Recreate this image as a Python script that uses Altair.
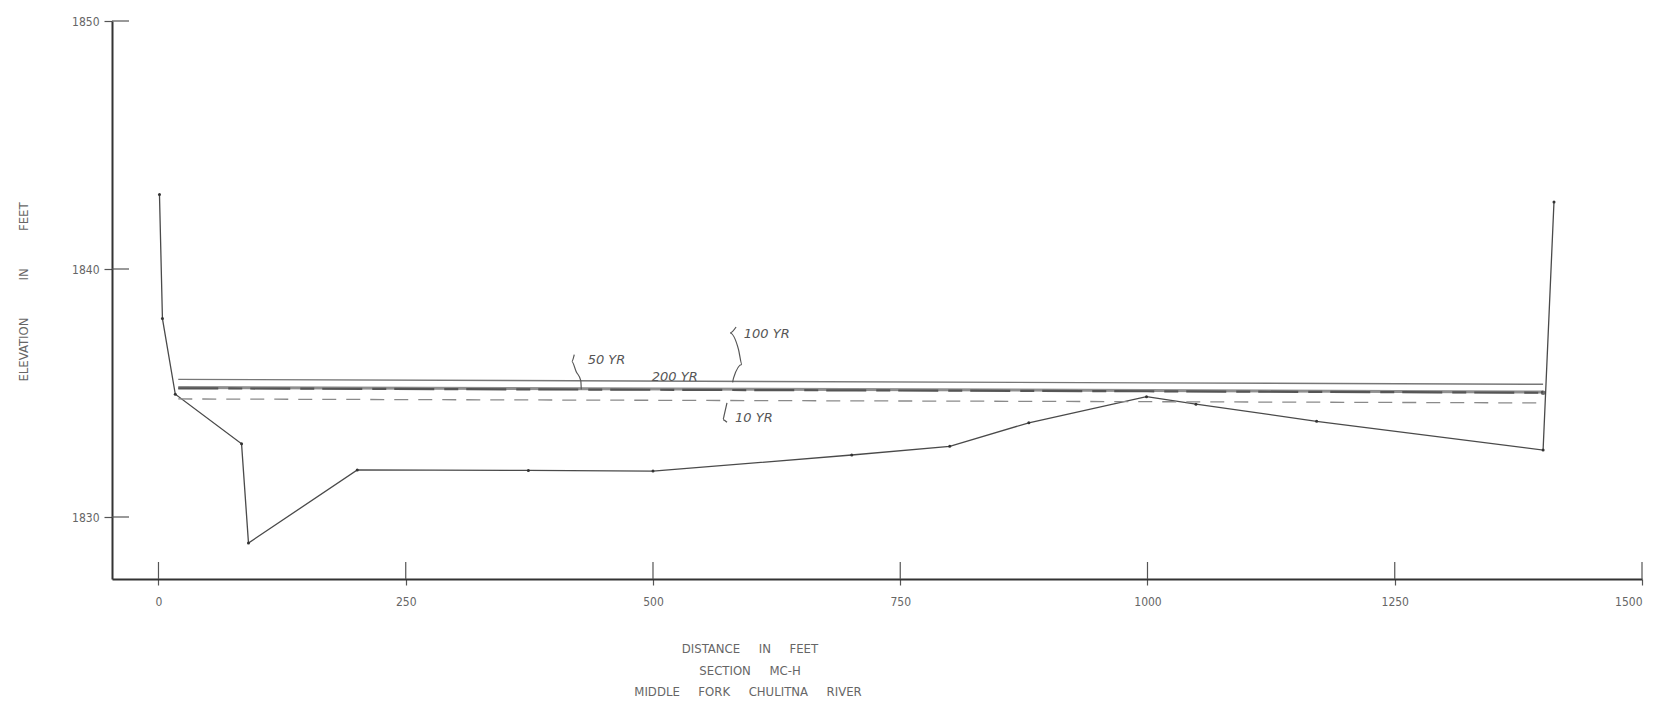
import altair as alt
import pandas as pd

# ---- data ----
ground_x = [1, 4, 17, 84, 91, 201, 374, 500, 701, 800, 880, 999, 1049, 1171, 1400, 1411]
ground_elev = [1843.0, 1838.0, 1834.95, 1832.95, 1828.95, 1831.9, 1831.88, 1831.85,
               1832.5, 1832.85, 1833.8, 1834.85, 1834.55, 1833.86, 1832.7, 1842.7]

ws_x = [20, 1000, 1400]
ws_100 = [1835.55, 1835.41, 1835.35]
ws_200 = [1835.22, 1835.10, 1835.04]
ws_50 = [1835.19, 1835.07, 1835.01]
ws_10 = [1834.76, 1834.65, 1834.60]

x_ticks = [0, 250, 500, 750, 1000, 1250, 1500]
y_ticks = [1830, 1840, 1850]

label_text = ["50 YR", "200 YR", "100 YR", "10 YR"]
label_x = [453, 522, 615, 602]
label_elev = [1836.35, 1835.66, 1837.36, 1834.0]

lead50_x = [420.4, 417.9, 422.4, 427.0, 427.5]
lead50_e = [1836.55, 1836.27, 1835.86, 1835.50, 1835.14]
lead100_x = [584.0, 577.9, 586.5, 589.9, 581.5, 580.5]
lead100_e = [1837.66, 1837.42, 1836.75, 1836.15, 1835.61, 1835.43]
lead10_x = [574.8, 572.1, 570.8, 574.8]
lead10_e = [1834.6, 1834.13, 1833.93, 1833.82]

GAP = "\u00a0\u00a0\u00a0\u00a0\u00a0"
caption_lines = ["DISTANCE" + GAP + "IN" + GAP + "FEET",
                 "SECTION" + GAP + "MC-H",
                 "MIDDLE" + GAP + "FORK" + GAP + "CHULITNA" + GAP + "RIVER"]
y_title = "ELEVATION" + GAP + GAP + "IN" + GAP + GAP + "FEET"

FONT = "DejaVu Sans Condensed"
W, H = 1530, 558

xs = alt.Scale(domain=[-47, 1500], nice=False, zero=False)
ys = alt.Scale(domain=[1827.5, 1850], nice=False, zero=False)

x_axis = alt.Axis(values=x_ticks, title=None, grid=False, tickSize=6, labelPadding=11,
                  labelFontSize=12, labelFont=FONT, labelColor="#666", domainColor="#333",
                  domainWidth=2, tickColor="#555", tickWidth=1.2, format="d")
y_axis = alt.Axis(values=y_ticks, title=None, grid=False, tickSize=8, labelPadding=5,
                  labelFontSize=12, labelFont=FONT, labelColor="#666", domainColor="#333",
                  domainWidth=2, tickColor="#555", tickWidth=1.2, format="d")


def X(field):
    return alt.X(field, type="quantitative", scale=xs, axis=x_axis)


def Y(field):
    return alt.Y(field, type="quantitative", scale=ys, axis=y_axis)


ground = pd.DataFrame({"x": ground_x, "e": ground_elev})
ground_layer = alt.Chart(ground).mark_line(
    color="#4a4a4a", strokeWidth=1.3,
    point=alt.OverlayMarkDef(size=9, filled=True, color="#333")
).encode(x=X("x"), y=Y("e"))


def ws_layer(vals, **kw):
    df = pd.DataFrame({"x": ws_x, "e": vals})
    return alt.Chart(df).mark_line(**kw).encode(x=X("x"), y=Y("e"))


l100 = ws_layer(ws_100, color="#777", strokeWidth=1.4)
l200 = ws_layer(ws_200, color="#8f8f8f", strokeWidth=3)
l50 = ws_layer(ws_50, color="#555", strokeWidth=2.2, strokeDash=[40, 10, 14, 8])
l10 = ws_layer(ws_10, color="#8a8a8a", strokeWidth=1.3, strokeDash=[14, 10])

ends = pd.DataFrame({"x": [ws_x[-1]], "e": [ws_50[-1]]})
end_dot = alt.Chart(ends).mark_point(filled=True, size=22, color="#333").encode(x=X("x"), y=Y("e"))


def leader(xv, ev):
    df = pd.DataFrame({"x": xv, "e": ev, "i": list(range(len(xv)))})
    return alt.Chart(df).mark_line(color="#555", strokeWidth=1.2, interpolate="monotone").encode(
        x=X("x"), y=Y("e"), order=alt.Order("i:Q"))


labels = pd.DataFrame({"t": label_text, "x": label_x, "e": label_elev})
label_layer = alt.Chart(labels).mark_text(
    font="DejaVu Sans", fontStyle="italic", fontSize=13, color="#555"
).encode(x=X("x"), y=Y("e"), text="t:N")

tick_x_df = pd.DataFrame({"x": x_ticks})
inner_x = alt.Chart(tick_x_df).mark_rule(color="#555", strokeWidth=1.2).encode(
    x=X("x"), y=alt.value(H - 17), y2=alt.value(H))
tick_y_df = pd.DataFrame({"e": y_ticks})
inner_y = alt.Chart(tick_y_df).mark_rule(color="#555", strokeWidth=1.2).encode(
    y=Y("e"), x=alt.value(0), x2=alt.value(17))


def text_at(txt, px, py, angle=0, size=13):
    df = pd.DataFrame({"t": [txt]})
    return alt.Chart(df).mark_text(font=FONT, fontSize=size, color="#666", angle=angle).encode(
        x=alt.value(px), y=alt.value(py), text="t:N")


cap1 = text_at(caption_lines[0], 638, 628)
cap2 = text_at(caption_lines[1], 638, 650)
cap3 = text_at(caption_lines[2], 636, 671)
ytitle = text_at(y_title, -88, 271, angle=270)

chart = alt.layer(
    ground_layer, l200, l50, l100, l10, end_dot,
    leader(lead50_x, lead50_e), leader(lead100_x, lead100_e), leader(lead10_x, lead10_e),
    label_layer, inner_x, inner_y, cap1, cap2, cap3, ytitle
).properties(
    width=W, height=H,
    padding={"left": 104, "top": 13, "right": 14, "bottom": 125},
    autosize=alt.AutoSizeParams(type="none"),
    background="white"
).configure_view(stroke=None)

chart.save("out.html", embed_options={"renderer": "svg", "actions": False})
